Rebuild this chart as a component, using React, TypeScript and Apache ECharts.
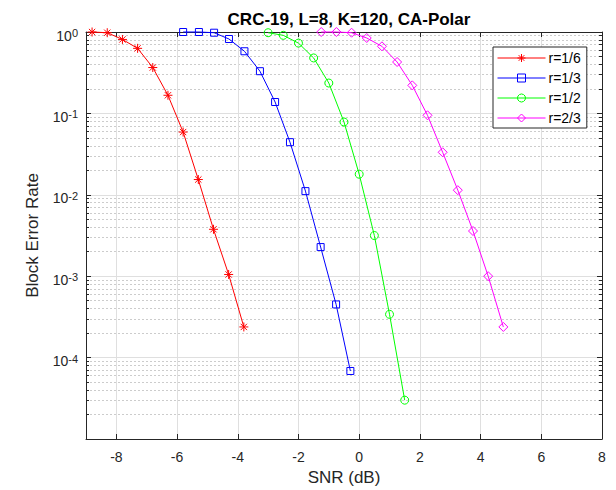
import React, { useEffect, useRef } from 'react';
import * as echarts from 'echarts';

// ---- data ----
const seriesNames = ['r=1/6', 'r=1/3', 'r=1/2', 'r=2/3'];

const snrR = [-8.8, -8.3, -7.8, -7.3, -6.8, -6.3, -5.8, -5.3, -4.8, -4.3, -3.8];
const blerR = [1.0, 0.98, 0.81, 0.63, 0.366, 0.167, 0.059, 0.0154, 0.00377, 0.00105, 0.000238];

const snrB = [-5.8, -5.28, -4.78, -4.29, -3.78, -3.27, -2.77, -2.28, -1.77, -1.27, -0.76, -0.29];
const blerB = [1.0, 1.0, 0.98, 0.82, 0.58, 0.33, 0.138, 0.0443, 0.0111, 0.00228, 0.00045, 0.0000685];

const snrG = [-3, -2.5, -2, -1.5, -1, -0.5, 0, 0.5, 1, 1.5];
const blerG = [0.98, 0.91, 0.73, 0.48, 0.236, 0.0784, 0.0179, 0.00316, 0.00034, 0.00003];

const snrM = [-1.25, -0.75, -0.25, 0.25, 0.75, 1.25, 1.75, 2.25, 2.75, 3.25, 3.75, 4.25, 4.75];
const blerM = [1.0, 1.0, 0.98, 0.844, 0.667, 0.428, 0.221, 0.0948, 0.0333, 0.0114, 0.00359, 0.001, 0.000238];

const xTicks = [-8, -6, -4, -2, 0, 2, 4, 6, 8];
const xTickLabels = ['-8', '-6', '-4', '-2', '0', '2', '4', '6', '8'];
const yTicks = [1, 0.1, 0.01, 0.001, 0.0001];
const yTickExps = ['0', '-1', '-2', '-3', '-4'];
const yMinorTicks: number[] = [];
for (let e = -5; e < 0; e++) for (let k = 2; k <= 9; k++) yMinorTicks.push(k * Math.pow(10, e));

const FONT = "'Liberation Sans', Arial, Helvetica, sans-serif";
const AX = '#262626';
const STAR = 'path://M10,0 L10,20 M0,10 L20,10 M3,3 L17,17 M3,17 L17,3';

const pairs = (xs: number[], ys: number[]) => xs.map((x, i) => [x, ys[i]]);

function mkSeries(name: string, xs: number[], ys: number[], color: string, symbol: string, size: number) {
  return {
    name,
    type: 'line',
    data: pairs(xs, ys),
    xAxisIndex: 0,
    yAxisIndex: 0,
    symbol,
    symbolSize: size,
    showAllSymbol: true,
    clip: false,
    lineStyle: { color, width: 1 },
    itemStyle: { color: 'rgba(0,0,0,0)', borderColor: color, borderWidth: 1 },
    emphasis: { disabled: true },
    z: 3,
  };
}

const findIdx = (arr: number[], v: number, log = false) =>
  arr.findIndex((t) => (log ? Math.abs(Math.log10(t) - Math.log10(v)) < 1e-6 : Math.abs(t - v) < 1e-6));

export default function App() {
  const ref = useRef<HTMLDivElement>(null);
  useEffect(() => {
    if (!ref.current) return;
    const chart = echarts.init(ref.current, undefined, { renderer: 'svg' });
    const logAxisBase = { type: 'log', logBase: 10, min: 0.00001, max: 1 };
    const option: any = {
      animation: false,
      backgroundColor: '#fff',
      title: {
        text: 'CRC-19, L=8, K=120, CA-Polar',
        left: 344,
        top: 6,
        textAlign: 'center',
        textStyle: { fontFamily: FONT, fontSize: 17, fontWeight: 'bold', color: '#000' },
      },
      grid: { left: 86, right: 14, top: 32, bottom: 51, containLabel: false, outerBoundsMode: 'none' },
      legend: {
        data: seriesNames,
        orient: 'vertical',
        left: 493,
        top: 47,
        itemWidth: 48,
        itemHeight: 10,
        itemGap: 6,
        padding: [4, 6, 3, 4],
        backgroundColor: '#fff',
        borderColor: AX,
        borderWidth: 1,
        borderRadius: 0,
        lineStyle: { width: 1 },
        itemStyle: { borderWidth: 1 },
        textStyle: { fontFamily: FONT, fontSize: 14, color: '#000', padding: [0, 0, 0, -2] },
      },
      xAxis: [
        {
          type: 'value',
          min: -9,
          max: 8,
          position: 'bottom',
          name: 'SNR (dB)',
          nameLocation: 'middle',
          nameGap: 30,
          nameMoveOverlap: false,
          nameTextStyle: { fontFamily: FONT, fontSize: 17, color: AX },
          axisLine: { show: true, onZero: false, lineStyle: { color: AX, width: 1 } },
          axisTick: { show: true, inside: true, length: 5, customValues: xTicks, lineStyle: { color: AX } },
          axisLabel: {
            customValues: xTicks,
            formatter: (v: number) => xTickLabels[findIdx(xTicks, v)] ?? '',
            margin: 11,
            color: AX,
            fontSize: 14,
            fontFamily: FONT,
          },
          splitLine: { show: true, lineStyle: { color: '#dfdfdf', width: 1 } },
        },
        {
          type: 'value',
          min: -9,
          max: 8,
          position: 'top',
          axisLine: { show: true, onZero: false, lineStyle: { color: AX, width: 1 } },
          axisTick: { show: true, inside: true, length: 5, customValues: xTicks, lineStyle: { color: AX } },
          axisLabel: { show: false },
          splitLine: { show: false },
        },
      ],
      yAxis: [
        {
          ...logAxisBase,
          position: 'left',
          name: 'Block Error Rate',
          nameLocation: 'middle',
          nameGap: 45,
          nameRotate: 90,
          nameMoveOverlap: false,
          nameTextStyle: { fontFamily: FONT, fontSize: 17, color: AX },
          axisLine: { show: true, onZero: false, lineStyle: { color: AX, width: 1 } },
          axisTick: { show: true, inside: true, length: 5, customValues: yTicks, lineStyle: { color: AX } },
          axisLabel: {
            customValues: yTicks,
            margin: 8,
            padding: [7, 0, 0, 0],
            formatter: (v: number) => {
              const i = findIdx(yTicks, v, true);
              return i < 0 ? '' : `{b|10}{s|${yTickExps[i]}}`;
            },
            rich: {
              b: { fontFamily: FONT, fontSize: 14, color: AX, lineHeight: 16 },
              s: { fontFamily: FONT, fontSize: 11, color: AX, lineHeight: 8, verticalAlign: 'top' },
            },
          },
          splitLine: { show: true, lineStyle: { color: '#dfdfdf', width: 1 } },
        },
        {
          ...logAxisBase,
          position: 'left',
          axisLine: { show: false, onZero: false },
          axisTick: { show: true, inside: true, length: 3, customValues: yMinorTicks, lineStyle: { color: AX } },
          axisLabel: { show: false },
          splitLine: { show: true, lineStyle: { color: '#cccccc', width: 1, type: [2, 2] } },
        },
        {
          ...logAxisBase,
          position: 'right',
          axisLine: { show: true, onZero: false, lineStyle: { color: AX, width: 1 } },
          axisTick: { show: true, inside: true, length: 5, customValues: yTicks, lineStyle: { color: AX } },
          axisLabel: { show: false },
          splitLine: { show: false },
        },
        {
          ...logAxisBase,
          position: 'right',
          axisLine: { show: false, onZero: false },
          axisTick: { show: true, inside: true, length: 3, customValues: yMinorTicks, lineStyle: { color: AX } },
          axisLabel: { show: false },
          splitLine: { show: false },
        },
      ],
      series: [
        mkSeries(seriesNames[0], snrR, blerR, '#ff0000', STAR, 9),
        mkSeries(seriesNames[1], snrB, blerB, '#0000ff', 'rect', 7),
        mkSeries(seriesNames[2], snrG, blerG, '#00ff00', 'circle', 8),
        mkSeries(seriesNames[3], snrM, blerM, '#ff00ff', 'diamond', 9),
      ],
    };
    chart.setOption(option);
    return () => chart.dispose();
  }, []);
  return <div ref={ref} style={{ position: 'absolute', left: 0, top: 0, width: 616, height: 490 }} />;
}
